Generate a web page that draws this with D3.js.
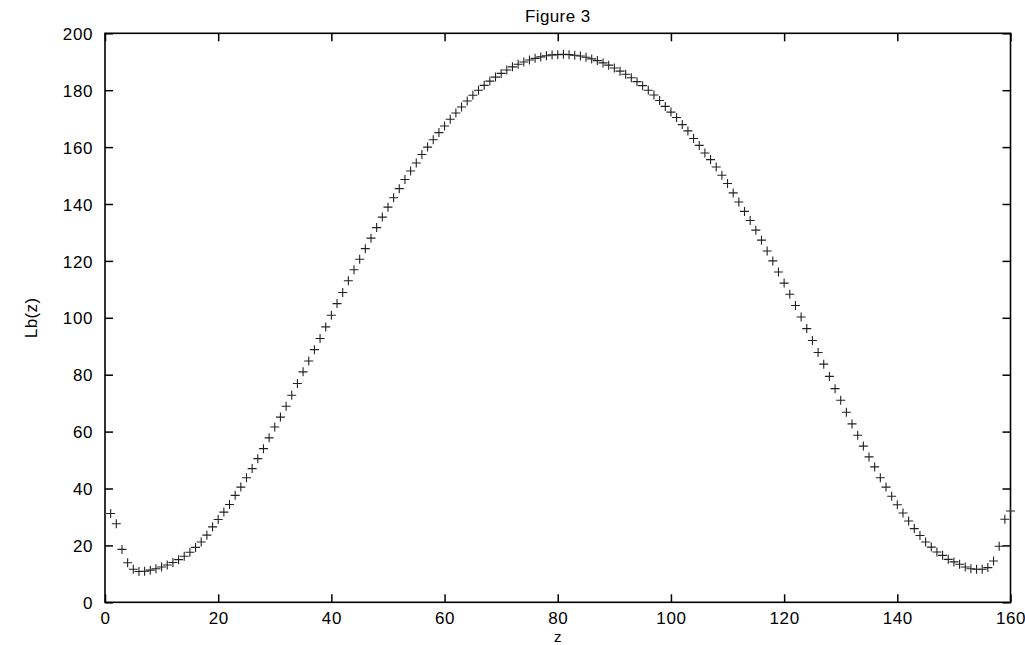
<!DOCTYPE html>
<html>
<head>
<meta charset="utf-8">
<script src="https://cdn.jsdelivr.net/npm/d3@7/dist/d3.min.js"></script>
<style>
html,body{margin:0;padding:0;background:#fff;}
svg{display:block;}
text{font-family:"Liberation Sans",Arial,Helvetica,sans-serif;fill:#000;}
</style>
</head>
<body>
<svg id="chart" width="1025" height="645"></svg>
<script>
const titleText = "Figure 3";
const xLabel = "z";
const yLabel = "Lb(z)";
const xTicks = [0, 20, 40, 60, 80, 100, 120, 140, 160];
const yTicks = [0, 20, 40, 60, 80, 100, 120, 140, 160, 180, 200];

const zValues = [
  1,2,3,4,5,6,7,8,9,10,11,12,13,14,15,16,17,18,19,20,
  21,22,23,24,25,26,27,28,29,30,31,32,33,34,35,36,37,38,39,40,
  41,42,43,44,45,46,47,48,49,50,51,52,53,54,55,56,57,58,59,60,
  61,62,63,64,65,66,67,68,69,70,71,72,73,74,75,76,77,78,79,80,
  81,82,83,84,85,86,87,88,89,90,91,92,93,94,95,96,97,98,99,100,
  101,102,103,104,105,106,107,108,109,110,111,112,113,114,115,116,117,118,119,120,
  121,122,123,124,125,126,127,128,129,130,131,132,133,134,135,136,137,138,139,140,
  141,142,143,144,145,146,147,148,149,150,151,152,153,154,155,156,157,158,159,160
];

const lbValues = [
  31.2,27.6,18.6,13.9,11.6,10.8,10.9,11.3,11.8,12.4,
  13.1,14.0,15.0,16.2,17.6,19.3,21.2,23.6,26.5,29.1,
  31.7,34.4,37.6,40.5,43.8,47.0,50.5,54.0,57.8,61.6,
  65.1,68.9,72.8,76.9,81.0,84.8,88.8,92.7,96.8,100.9,
  105.0,108.9,113.0,116.9,120.6,124.3,128.0,131.7,135.4,138.9,
  142.2,145.4,148.6,151.6,154.4,157.4,160.0,162.6,165.1,167.4,
  169.8,172.0,174.1,176.2,178.2,180.0,181.7,183.2,184.6,185.9,
  187.1,188.2,189.1,189.9,190.6,191.2,191.7,192.1,192.4,192.5,
  192.6,192.5,192.3,192.0,191.6,191.0,190.4,189.6,188.8,187.8,
  186.7,185.6,184.4,183.0,181.6,180.0,178.3,176.4,174.3,172.3,
  170.4,167.9,165.7,163.0,160.6,157.9,155.6,153.0,150.1,147.2,
  143.9,140.7,137.4,134.2,130.8,127.3,123.5,120.0,116.1,112.2,
  108.3,104.3,100.3,96.2,92.0,87.8,83.7,79.4,75.1,71.0,
  66.8,62.7,58.7,54.9,51.1,47.6,43.8,40.5,37.3,34.3,
  31.4,28.6,25.9,23.5,21.2,19.4,17.7,16.5,15.1,14.2,
  13.4,12.4,11.8,11.6,11.6,12.2,14.5,19.7,29.2,32.1
];

(function () {
const svg = d3.select("#chart");
const mLeft = 105, mRight = 1010.5, mTop = 33.3, mBottom = 602.3;

const x = d3.scaleLinear().domain([0, 160]).range([mLeft, mRight]);
const y = d3.scaleLinear().domain([0, 200]).range([mBottom, mTop]);

const tickLen = 8;
const fontSize = 17;

const gB = svg.append("g").attr("transform", `translate(0,${mBottom})`)
  .call(d3.axisBottom(x).tickValues(xTicks).tickSizeInner(-tickLen).tickSizeOuter(0).tickFormat(d3.format("d")));
const gT = svg.append("g").attr("transform", `translate(0,${mTop})`)
  .call(d3.axisTop(x).tickValues(xTicks).tickSizeInner(-tickLen).tickSizeOuter(0).tickFormat(""));
const gL = svg.append("g").attr("transform", `translate(${mLeft},0)`)
  .call(d3.axisLeft(y).tickValues(yTicks).tickSizeInner(-tickLen).tickSizeOuter(0).tickFormat(d3.format("d")));
const gR = svg.append("g").attr("transform", `translate(${mRight},0)`)
  .call(d3.axisRight(y).tickValues(yTicks).tickSizeInner(-tickLen).tickSizeOuter(0).tickFormat(""));

[gB, gT, gL, gR].forEach(g => {
  g.select(".domain").remove();
  g.selectAll(".tick line").attr("stroke", "#000").attr("stroke-width", 1.5);
});

gB.selectAll(".tick text")
  .attr("y", 22).attr("dy", 0)
  .style("font-size", fontSize + "px").style("letter-spacing", "0.6px")
  .attr("fill", "#000");
gL.selectAll(".tick text")
  .attr("x", -12).attr("dy", "0.36em")
  .style("font-size", fontSize + "px").style("letter-spacing", "0.6px")
  .attr("fill", "#000");

svg.append("rect")
  .attr("x", mLeft).attr("y", mTop)
  .attr("width", mRight - mLeft).attr("height", mBottom - mTop)
  .attr("fill", "none").attr("stroke", "#000").attr("stroke-width", 1.6);

const pts = zValues.map((z, i) => ({z: z, v: lbValues[i]}));
svg.append("g").selectAll("path")
  .data(pts)
  .join("path")
  .attr("transform", d => `translate(${x(d.z)},${y(d.v)})`)
  .attr("d", "M-4.5,0H4.5M0,-4.5V4.5")
  .attr("stroke", "#222")
  .attr("stroke-width", 1.1)
  .attr("fill", "none");

svg.append("text")
  .attr("x", (mLeft + mRight) / 2).attr("y", 22)
  .attr("text-anchor", "middle")
  .style("font-size", fontSize + "px").style("letter-spacing", "0.4px")
  .text(titleText);

svg.append("text")
  .attr("x", (mLeft + mRight) / 2).attr("y", 641.8)
  .attr("text-anchor", "middle")
  .style("font-size", "15px")
  .text(xLabel);

svg.append("text")
  .attr("transform", `translate(37,${(mTop + mBottom) / 2}) rotate(-90)`)
  .attr("text-anchor", "middle")
  .style("font-size", fontSize + "px").style("letter-spacing", "0.4px")
  .text(yLabel);
})();
</script>
</body>
</html>
